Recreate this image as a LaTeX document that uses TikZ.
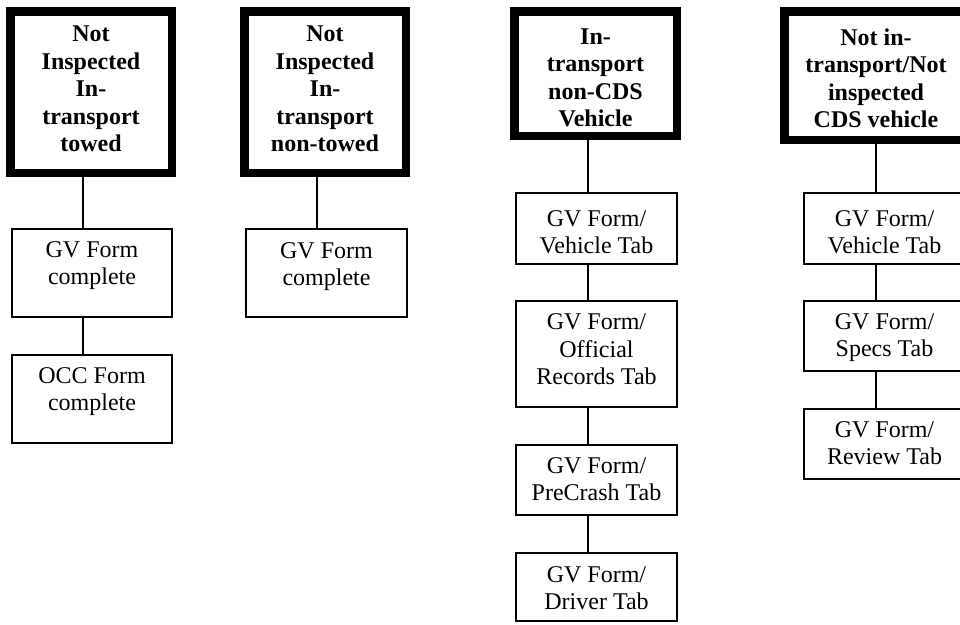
\documentclass[tikz,border=0pt]{standalone}
\usepackage{fontspec}
\setmainfont{Liberation Serif}
\newcommand\mytop[1]{\rule{0pt}{#1pt}}
\newcommand\mybot[1]{\rule[-#1pt]{0pt}{#1pt}}
\begin{document}
\begin{tikzpicture}[x=1pt,y=-1pt,
  hdr/.style={draw, line width=8.5pt, inner sep=0pt, align=center,
    font=\fontsize{24}{27.6}\selectfont\bfseries},
  frm/.style={draw, line width=1.6pt, inner sep=0pt, align=center,
    minimum width=161.5pt, font=\fontsize{24}{27.6}\selectfont},
  link/.style={line width=1.6pt}]
\useasboundingbox (0,0) rectangle (960,624);
\clip (0,0) rectangle (960,624);
% column coordinates for connectors
\coordinate (x1) at (83,0);
\coordinate (x2) at (317,0);
\coordinate (x3) at (588,0);
\coordinate (x4) at (876,0);
% column 1
\node[hdr, minimum width=161.5pt, minimum height=161.5pt] (h1) at (91,92)
  {\mytop{30.25}Not\\Inspected\\In-\\transport\\towed\mybot{20.85}};
\node[frm, minimum width=160.5pt, minimum height=88.5pt] (a1) at (92,273)
  {\mytop{28.25}GV Form\\complete\mybot{32.65}};
\node[frm, minimum width=160.5pt, minimum height=88.5pt] (a2) at (92,399)
  {\mytop{28.25}OCC Form\\complete\mybot{32.65}};
% column 2
\node[hdr, minimum width=161.5pt, minimum height=161.5pt] (h2) at (325,92)
  {\mytop{30.25}Not\\Inspected\\In-\\transport\\non-towed\mybot{20.85}};
\node[frm, minimum height=88.5pt] (b1) at (326.5,273)
  {\mytop{29.25}GV Form\\complete\mybot{31.65}};
% column 3
\node[hdr, minimum width=162.5pt, minimum height=124.5pt] (h3) at (595.5,73.5)
  {\mytop{32.75}In-\\transport\\non-CDS\\Vehicle\mybot{8.95}};
\node[frm, minimum height=71.5pt] (c1) at (596.5,228.5)
  {\mytop{33.25}GV Form/\\Vehicle Tab\mybot{10.65}};
\node[frm, minimum height=106.5pt] (c2) at (596.5,354)
  {\mytop{28.75}GV Form/\\Official\\Records Tab\mybot{22.55}};
\node[frm, minimum height=70.5pt] (c3) at (596.5,480)
  {\mytop{28.25}GV Form/\\PreCrash Tab\mybot{14.65}};
\node[frm, minimum height=68.5pt] (c4) at (596.5,587)
  {\mytop{29.25}GV Form/\\Driver Tab\mybot{11.65}};
% column 4
\node[hdr, minimum width=183.5pt, minimum height=128.5pt] (h4) at (876,75.5)
  {\mytop{33.75}Not in-\\transport/Not\\inspected\\CDS vehicle\mybot{11.95}};
\node[frm, minimum height=71.5pt] (d1) at (884.5,228.5)
  {\mytop{33.25}GV Form/\\Vehicle Tab\mybot{10.65}};
\node[frm, minimum height=70.5pt] (d2) at (884.5,336)
  {\mytop{28.25}GV Form/\\Specs Tab\mybot{14.65}};
\node[frm, minimum height=70.5pt] (d3) at (884.5,444)
  {\mytop{28.25}GV Form/\\Review Tab\mybot{14.65}};
% connectors
\draw[link] (h1.south -| x1) -- (a1.north -| x1);
\draw[link] (a1.south -| x1) -- (a2.north -| x1);
\draw[link] (h2.south -| x2) -- (b1.north -| x2);
\draw[link] (h3.south -| x3) -- (c1.north -| x3);
\draw[link] (c1.south -| x3) -- (c2.north -| x3);
\draw[link] (c2.south -| x3) -- (c3.north -| x3);
\draw[link] (c3.south -| x3) -- (c4.north -| x3);
\draw[link] (h4.south -| x4) -- (d1.north -| x4);
\draw[link] (d1.south -| x4) -- (d2.north -| x4);
\draw[link] (d2.south -| x4) -- (d3.north -| x4);
\end{tikzpicture}
\end{document}
